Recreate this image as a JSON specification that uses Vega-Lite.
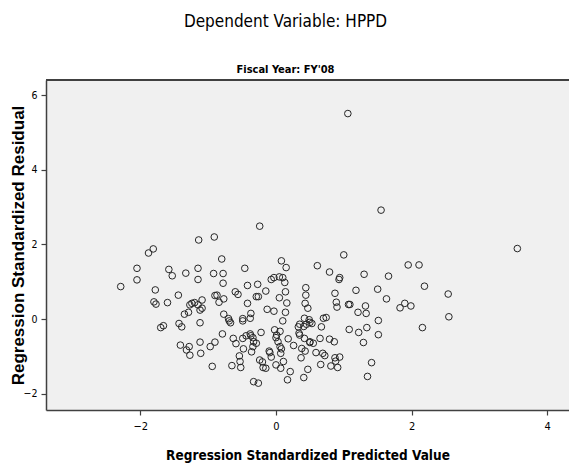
{
  "$schema": "https://vega.github.io/schema/vega-lite/v6.json",
  "autosize": {"type": "none"},
  "width": 523,
  "height": 330,
  "padding": {"left": 46, "top": 80, "right": 0, "bottom": 58},
  "background": "white",
  "title": {
    "text": "Dependent Variable: HPPD",
    "subtitle": "Fiscal Year: FY'08",
    "anchor": "middle",
    "frame": "group",
    "dx": -22,
    "offset": 3,
    "font": "DejaVu Sans Condensed",
    "fontSize": 17,
    "fontWeight": "normal",
    "color": "#000000",
    "subtitleFont": "DejaVu Sans Condensed",
    "subtitleFontSize": 11,
    "subtitleFontWeight": "bold",
    "subtitleColor": "#000000",
    "subtitlePadding": 33
  },
  "config": {
    "view": {"stroke": null, "fill": "#f0f0f0"},
    "axis": {
      "grid": false,
      "domainColor": "#404040",
      "domainWidth": 1.5,
      "tickColor": "#404040",
      "tickWidth": 1.2,
      "tickSize": 5,
      "labelFont": "DejaVu Sans Condensed",
      "labelFontSize": 11,
      "labelColor": "#000000",
      "titleColor": "#000000",
      "titleFontWeight": "bold"
    }
  },
  "data": {
    "values": [
      {"pred": -2.29, "resid": 0.87}, {"pred": -2.05, "resid": 1.05}, {"pred": -2.05, "resid": 1.36},
      {"pred": -1.88, "resid": 1.77}, {"pred": -1.81, "resid": 1.88}, {"pred": -1.78, "resid": 0.78},
      {"pred": -1.80, "resid": 0.46}, {"pred": -1.77, "resid": 0.40}, {"pred": -1.60, "resid": 0.44},
      {"pred": -1.58, "resid": 1.33}, {"pred": -1.53, "resid": 1.16}, {"pred": -1.33, "resid": 1.23},
      {"pred": -1.44, "resid": 0.64}, {"pred": -1.15, "resid": 1.36}, {"pred": -1.15, "resid": 1.06},
      {"pred": -1.14, "resid": 2.12}, {"pred": -0.91, "resid": 2.20}, {"pred": -0.92, "resid": 1.22},
      {"pred": -0.90, "resid": 0.63}, {"pred": -1.70, "resid": -0.23}, {"pred": -1.66, "resid": -0.18},
      {"pred": -1.43, "resid": -0.12}, {"pred": -1.39, "resid": -0.21}, {"pred": -1.27, "resid": 0.38},
      {"pred": -1.20, "resid": 0.44}, {"pred": -1.09, "resid": 0.51}, {"pred": -1.15, "resid": 0.38},
      {"pred": -1.12, "resid": 0.24}, {"pred": -1.09, "resid": 0.29}, {"pred": -1.35, "resid": 0.13},
      {"pred": -1.29, "resid": 0.18}, {"pred": -1.24, "resid": 0.42}, {"pred": -1.12, "resid": -0.10},
      {"pred": -1.41, "resid": -0.70}, {"pred": -1.28, "resid": -0.74}, {"pred": -1.32, "resid": -0.83},
      {"pred": -1.27, "resid": -0.97}, {"pred": -1.12, "resid": -0.62}, {"pred": -1.11, "resid": -0.92},
      {"pred": -0.97, "resid": -0.74}, {"pred": -0.90, "resid": -0.62}, {"pred": -0.94, "resid": -1.27},
      {"pred": -0.80, "resid": 1.61}, {"pred": -0.78, "resid": 1.22}, {"pred": -0.78, "resid": 0.96},
      {"pred": -0.87, "resid": 0.64}, {"pred": -0.84, "resid": 0.45}, {"pred": -0.77, "resid": 0.54},
      {"pred": -0.77, "resid": 0.13}, {"pred": -0.79, "resid": -0.40}, {"pred": -0.69, "resid": -0.05},
      {"pred": -0.67, "resid": -0.10}, {"pred": -0.63, "resid": -0.52}, {"pred": -0.59, "resid": -0.66},
      {"pred": -0.65, "resid": -1.25}, {"pred": -0.53, "resid": -1.14}, {"pred": -0.52, "resid": -1.30},
      {"pred": -0.54, "resid": -0.99}, {"pred": -0.48, "resid": -0.80}, {"pred": -0.60, "resid": 0.73},
      {"pred": -0.56, "resid": 0.66}, {"pred": -0.46, "resid": 1.36}, {"pred": -0.42, "resid": 0.90},
      {"pred": -0.42, "resid": 0.42}, {"pred": -0.49, "resid": -0.05}, {"pred": -0.49, "resid": 0.01},
      {"pred": -0.38, "resid": 0.02}, {"pred": -0.37, "resid": 0.15}, {"pred": -0.44, "resid": -0.45},
      {"pred": -0.37, "resid": -0.45}, {"pred": -0.33, "resid": -0.61}, {"pred": -0.34, "resid": -0.74},
      {"pred": -0.36, "resid": -0.88}, {"pred": -0.29, "resid": -0.65}, {"pred": -0.33, "resid": -1.68},
      {"pred": -0.26, "resid": -1.72}, {"pred": -0.29, "resid": 0.60}, {"pred": -0.26, "resid": 0.60},
      {"pred": -0.27, "resid": 0.93}, {"pred": -0.24, "resid": 2.49}, {"pred": -0.22, "resid": -0.36},
      {"pred": -0.24, "resid": -1.10}, {"pred": -0.20, "resid": -1.15}, {"pred": -0.19, "resid": -1.30},
      {"pred": -0.15, "resid": -1.32}, {"pred": -0.15, "resid": 0.75}, {"pred": -0.13, "resid": 0.26},
      {"pred": -0.10, "resid": -0.86}, {"pred": -0.07, "resid": -1.02}, {"pred": -0.07, "resid": 1.06},
      {"pred": -0.03, "resid": 1.11}, {"pred": -0.03, "resid": 0.21}, {"pred": -0.02, "resid": -0.29},
      {"pred": 0.01, "resid": -0.43}, {"pred": 0.03, "resid": -0.61}, {"pred": 0.05, "resid": 1.13},
      {"pred": 0.08, "resid": 1.56}, {"pred": 0.10, "resid": 1.11}, {"pred": 0.15, "resid": 1.38},
      {"pred": 0.13, "resid": 0.98}, {"pred": 0.14, "resid": 0.73}, {"pred": 0.05, "resid": 0.57},
      {"pred": 0.16, "resid": 0.43}, {"pred": 0.14, "resid": 0.18}, {"pred": 0.10, "resid": -0.05},
      {"pred": 0.06, "resid": -0.74}, {"pred": 0.08, "resid": -0.80}, {"pred": 0.07, "resid": -0.92},
      {"pred": 0.11, "resid": -1.14}, {"pred": 0.07, "resid": -1.32}, {"pred": 0.00, "resid": -1.23},
      {"pred": 0.18, "resid": -0.53}, {"pred": 0.21, "resid": -1.41}, {"pred": 0.17, "resid": -1.63},
      {"pred": 0.26, "resid": -0.71}, {"pred": 0.33, "resid": -0.21}, {"pred": 0.35, "resid": -0.43},
      {"pred": 0.37, "resid": -1.04}, {"pred": 0.35, "resid": -0.14}, {"pred": 0.38, "resid": -0.79},
      {"pred": 0.43, "resid": -0.86}, {"pred": 0.42, "resid": -0.52}, {"pred": 0.44, "resid": 0.84},
      {"pred": 0.44, "resid": 0.64}, {"pred": 0.43, "resid": 0.42}, {"pred": 0.47, "resid": 0.29},
      {"pred": 0.41, "resid": -1.57}, {"pred": 0.47, "resid": -1.35}, {"pred": 0.42, "resid": 0.02},
      {"pred": 0.45, "resid": -0.14}, {"pred": 0.50, "resid": -0.09}, {"pred": 0.53, "resid": -0.12},
      {"pred": 0.50, "resid": -0.61}, {"pred": 0.55, "resid": -0.65}, {"pred": 0.59, "resid": -0.90},
      {"pred": 0.61, "resid": 1.43}, {"pred": 0.65, "resid": -0.52}, {"pred": 0.67, "resid": -0.21},
      {"pred": 0.70, "resid": 0.02}, {"pred": 0.74, "resid": 0.04}, {"pred": 0.66, "resid": -1.22},
      {"pred": 0.69, "resid": -0.92}, {"pred": 0.72, "resid": -0.98}, {"pred": 0.79, "resid": 1.26},
      {"pred": 0.79, "resid": -0.54}, {"pred": 0.86, "resid": -0.61}, {"pred": 0.81, "resid": -1.26},
      {"pred": 0.87, "resid": -1.04}, {"pred": 0.88, "resid": -1.13}, {"pred": 0.94, "resid": -1.02},
      {"pred": 0.91, "resid": -1.30}, {"pred": 0.93, "resid": 1.06}, {"pred": 0.94, "resid": 1.11},
      {"pred": 0.87, "resid": 0.69}, {"pred": 0.89, "resid": 0.45}, {"pred": 0.90, "resid": 0.32},
      {"pred": 1.00, "resid": 1.72}, {"pred": 1.07, "resid": 0.39}, {"pred": 1.09, "resid": 0.39},
      {"pred": 1.08, "resid": -0.28}, {"pred": 1.18, "resid": 0.77}, {"pred": 1.21, "resid": 0.18},
      {"pred": 1.22, "resid": -0.36}, {"pred": 1.30, "resid": 1.20}, {"pred": 1.32, "resid": 0.35},
      {"pred": 1.33, "resid": 0.15}, {"pred": 1.34, "resid": -0.23}, {"pred": 1.29, "resid": -0.63},
      {"pred": 1.41, "resid": -1.17}, {"pred": 1.35, "resid": -1.54}, {"pred": 1.50, "resid": 0.80},
      {"pred": 1.51, "resid": -0.04}, {"pred": 1.51, "resid": -0.42}, {"pred": 1.55, "resid": 2.92},
      {"pred": -0.70, "resid": 0.01}, {"pred": -0.49, "resid": -0.52}, {"pred": -0.38, "resid": -0.40},
      {"pred": -0.34, "resid": -0.50}, {"pred": -0.09, "resid": -0.90}, {"pred": 0.00, "resid": -0.50},
      {"pred": 0.06, "resid": -0.33}, {"pred": 0.34, "resid": -0.38}, {"pred": 0.41, "resid": -0.20},
      {"pred": 0.49, "resid": -0.02}, {"pred": 0.50, "resid": -0.63},
      {"pred": 3.56, "resid": 1.89}, {"pred": 1.95, "resid": 1.45}, {"pred": 2.11, "resid": 1.45},
      {"pred": 1.66, "resid": 1.15}, {"pred": 1.63, "resid": 0.54}, {"pred": 2.19, "resid": 0.88},
      {"pred": 2.54, "resid": 0.67}, {"pred": 2.55, "resid": 0.06}, {"pred": 1.83, "resid": 0.30},
      {"pred": 1.90, "resid": 0.42}, {"pred": 1.99, "resid": 0.35}, {"pred": 2.16, "resid": -0.23},
      {"pred": 1.06, "resid": 5.51}
    ]
  },
  "layer": [
    {
      "mark": {"type": "point", "shape": "circle", "filled": false, "size": 44, "stroke": "#262626", "strokeWidth": 1, "opacity": 1, "clip": true},
      "encoding": {
        "x": {
          "field": "pred", "type": "quantitative",
          "scale": {"domain": [-3.392, 4.322], "nice": false, "zero": false},
          "axis": {
            "values": [-2, 0, 2, 4],
            "title": "Regression Standardized Predicted Value",
            "titleFont": "DejaVu Sans Condensed",
            "titleFontSize": 13.5,
            "titlePadding": 17,
            "labelPadding": 5
          }
        },
        "y": {
          "field": "resid", "type": "quantitative",
          "scale": {"domain": [-2.44, 6.41], "nice": false, "zero": false},
          "axis": {
            "values": [-2, 0, 2, 4, 6],
            "title": "Regression Standardized Residual",
            "titleFont": "Liberation Sans",
            "titleFontSize": 17,
            "titlePadding": -4,
            "labelPadding": 4,
            "labelFontSize": 10.5
          }
        }
      }
    },
    {
      "mark": {"type": "rule", "color": "#404040", "strokeWidth": 1.5},
      "encoding": {"y": {"datum": 6.41}}
    }
  ]
}
